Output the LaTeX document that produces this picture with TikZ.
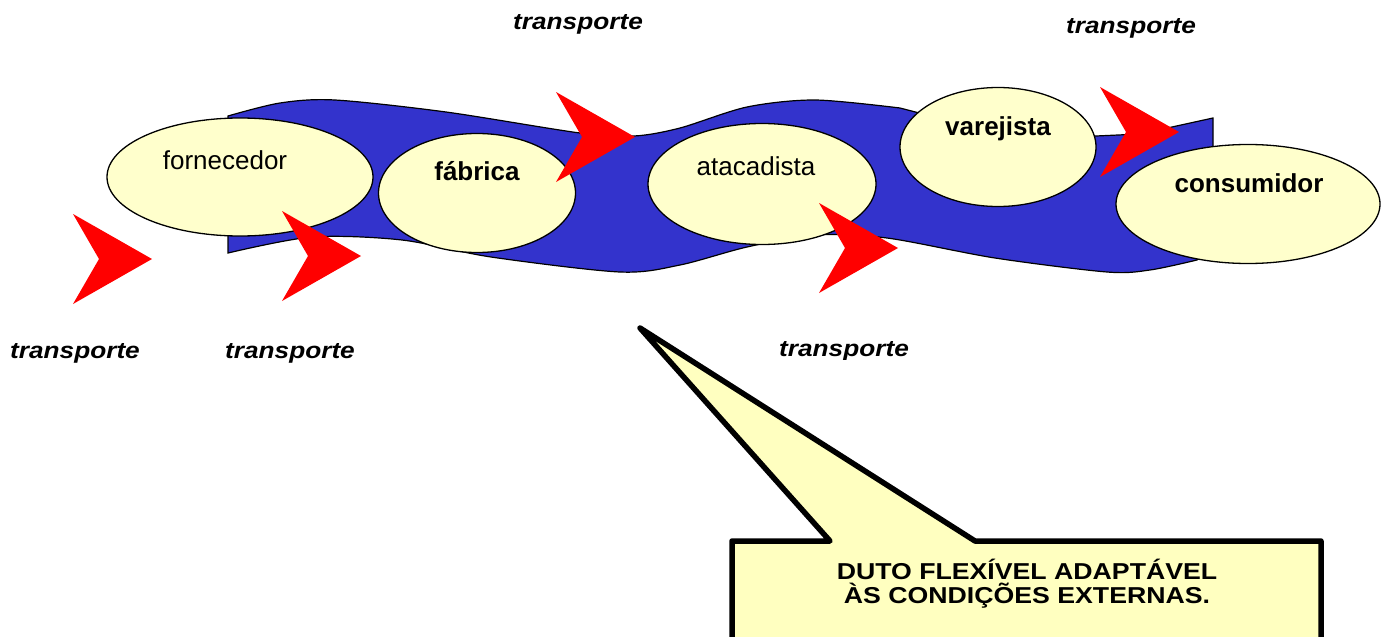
\documentclass[tikz,border=0pt]{standalone}
\usepackage{fontspec}
\setmainfont{Liberation Sans}
\usetikzlibrary{shapes.geometric}
\definecolor{duto}{HTML}{3333CC}
\definecolor{creme}{HTML}{FFFFCC}
\definecolor{callfill}{HTML}{FFFFC0}
\definecolor{redarrow}{HTML}{FF0000}
\tikzset{
  elo/.style={ellipse, draw=black, line width=1.3pt, fill=creme, inner sep=0pt},
  lbl/.style={inner sep=0pt, anchor=base, font=\fontsize{26}{30}\selectfont},
  lblb/.style={lbl, font=\fontsize{26}{30}\selectfont\bfseries},
  transp/.style={inner sep=0pt, anchor=base, font=\fontsize{23}{26}\selectfont\bfseries\itshape},
  callout/.style={draw=black, fill=callfill, line width=5.5pt, line join=round},
  calltext/.style={inner sep=0pt, anchor=base, font=\fontsize{23}{24}\selectfont\bfseries},
  band/.style={draw=black, fill=duto, line width=1.2pt},
}
\newcommand{\redchev}[2]{\fill[redarrow] (#1,#2) -- ++(-79,-45) -- ++(26,45) -- ++(-26,45) -- cycle;}
\newcommand{\wtxt}[1]{\scalebox{1.14}[1]{#1}}
\newcommand{\ctxt}[1]{\scalebox{1.16}[1]{#1}}
\begin{document}
\begin{tikzpicture}[x=1pt,y=-1pt]
\useasboundingbox (0,0) rectangle (1385,637);
% blue duct
\draw[band] plot[smooth] coordinates {(228,116) (280,103) (335,100) (446,112) (580,133) (634,136) (680,128) (747,107) (815,100) (900,108)}
  -- (1000,134) -- (1096,136) -- (1140,134) -- (1213,118) -- (1213,240) --
  plot[smooth] coordinates {(1197,260) (1150,270) (1107,272) (995,258) (887,238) (815,235) (747,247) (680,265) (620,272) (491,257) (402,240) (312,237) (228,253)}
  -- cycle;
% ellipses
\node[elo, minimum width=266pt, minimum height=118pt] (forn) at (240,177) {};
\node[elo, minimum width=197pt, minimum height=119pt] (fabr) at (477,193) {};
\node[elo, minimum width=228pt, minimum height=121pt] (atac) at (762,184) {};
\node[elo, minimum width=196pt, minimum height=119pt] (vare) at (998,147) {};
\node[elo, minimum width=264pt, minimum height=119pt] (cons) at (1248,204) {};
% labels
\node[lbl] (fornt) at (225,169) {fornecedor};
\node[lblb] (fabrt) at (477,180) {fábrica};
\node[lbl] (atact) at (756,175) {atacadista};
\node[lblb] (varet) at (998,135) {varejista};
\node[lblb] (const) at (1249,192) {consumidor};
% red arrows
\redchev{152}{259}
\redchev{361}{256}
\redchev{635}{137}
\redchev{898}{248}
\redchev{1179}{132}
% transporte labels
\node[transp] (t1) at (75,358) {\wtxt{transporte}};
\node[transp] (t2) at (290,358) {\wtxt{transporte}};
\begin{scope}
  \clip (700,320) rectangle (960,359);
  \node[transp] (t3) at (844,356) {\wtxt{transporte}};
\end{scope}
\begin{scope}
  \clip (450,0) rectangle (720,33);
  \node[transp] (t4) at (578,30) {\wtxt{transporte}};
\end{scope}
\node[transp] (t5) at (1131,33) {\wtxt{transporte}};
% callout
\draw[callout] (732,541) -- (830,541) -- (640,328) -- (975,541) -- (1321,541) -- (1321,660) -- (732,660) -- cycle;
\node[calltext] (c1) at (1027,579) {\ctxt{DUTO FLEXÍVEL ADAPTÁVEL}};
\node[calltext] (c2) at (1027,603) {\ctxt{ÀS CONDIÇÕES EXTERNAS.}};
\end{tikzpicture}
\end{document}
